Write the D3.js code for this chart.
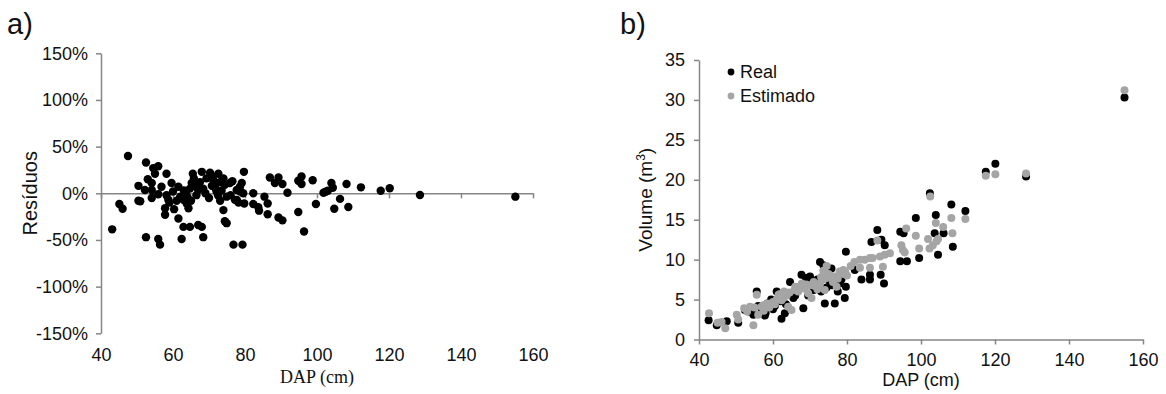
<!DOCTYPE html>
<html>
<head>
<meta charset="utf-8">
<script src="https://cdn.jsdelivr.net/npm/d3@7"></script>
<style>
  body { margin: 0; background: #fff; }
  text { font-family: Arial, "Liberation Sans", sans-serif; fill: #111; }
</style>
</head>
<body>
<svg id="svg"></svg>
<script>
// a) residuos (%) x DAP (cm)
const dapA = [
  43.1, 45.1, 46.0, 47.5, 50.4, 50.4, 50.9, 52.5, 53.0, 54.1, 52.2, 54.1, 54.1, 52.5,
  54.5, 55.9, 55.0, 55.9, 55.9, 56.4, 56.8, 58.2, 58.2, 58.7, 57.8, 57.8, 59.6, 60.3,
  61.5, 61.5, 62.0, 62.4, 62.9, 62.9, 63.8, 64.3, 63.6, 64.7, 64.7, 65.2, 65.5, 65.8,
  67.0, 68.0, 68.4, 68.0, 67.5, 67.0, 68.4, 69.3, 70.3, 71.2, 71.7, 72.1, 72.6, 74.0,
  74.4, 75.8, 73.1, 74.9, 74.0, 74.4, 74.9, 76.8, 77.2, 77.7, 79.7, 79.1, 78.6, 78.6,
  79.5, 77.7, 78.2, 79.8, 79.3, 66.0, 66.5, 69.0, 70.0, 70.8, 72.5, 73.5, 76.0, 71.0,
  73.0, 76.5, 60.0, 61.0, 63.0, 64.0, 59.0, 65.0,
  82.3, 82.3, 83.7, 83.9, 85.4, 86.3, 86.3, 86.9, 88.3, 89.3, 90.4, 91.8, 89.3, 90.4,
  94.8, 94.8, 95.7, 95.7, 96.4, 98.8, 99.7, 101.8, 102.4, 103.0, 104.0, 104.4, 106.4,
  104.8, 108.2, 108.7, 112.2, 117.7, 120.2, 128.6, 155.1
];
const residuo = [
  -38.6, -11.5, -16.5, 40, 8, -8, -8.5, 33, 15, 11, 3.5, 3.5, -5, -47,
  27, 29, 21, -1, -49, -55, 7, 21, -2, -7, -16, -23, 11, -17,
  7, -27, -3.6, -49, -7, -36, -11, -16, 0, 5, -36, 11, 21, 16,
  -34, -36, -47, 23, 12, 3.5, 5, 16, 22, 14, 6, 2, 21, 16,
  9, 11, -8, -3.6, -18, -30, -32, -55, -7, 3.5, 23, 11, 7, 2,
  0, -7, -10, -11, -55, 8, -2, 0, -5, 8, -2, 3, -2, 18,
  12, 13, 2, -8, 3, -4, -10, -8,
  0, -11.5, -15, -18.6, -3.6, -11, -22.5, 17, 11, 17, 10, 0.6, -26, -29,
  -20, 13.5, 18, 10, -41, 14, -11.5, 0.6, 1.7, 2.8, 11, 6, -6,
  -16.5, 10, -14.7, 6.4, 2.8, 5.4, -1.8, -3.6
];
const ticksResA = [-150, -100, -50, 0, 50, 100, 150];

// b) volume real e estimado (m3) x DAP (cm)
const dapReal = [
  42.6, 44.8, 47.5, 50.6, 52.4, 54.7, 55.6, 57.8, 61.0, 62.3, 63.2, 64.6, 67.7, 68.2,
  68.9, 70.0, 70.4, 72.7, 73.6, 75.8, 74.0, 76.7, 75.4, 79.4, 79.7, 79.7, 82.1, 83.9,
  86.2, 86.2, 86.6, 88.2, 89.3, 90.2, 89.1, 90.0, 94.4, 95.3, 94.4, 96.2, 98.6, 99.5,
  102.4, 104.0, 103.7, 106.1, 104.6, 108.2, 108.6, 112.0, 117.5, 120.1, 128.4, 155.0,
  53.5, 56.0, 58.5, 60.0, 62.0, 65.5, 66.5, 69.5, 71.5, 73.0, 77.5, 78.5, 57.0, 59.5, 64.0,
  58.0, 60.5, 63.5, 66.0, 68.0, 71.0, 72.0, 74.5, 76.0, 78.0
];
const volReal = [
  2.4, 1.8, 2.3, 2.1, 3.7, 3.1, 6.0, 3.0, 6.0, 2.6, 3.3, 7.2, 8.1, 3.9,
  7.7, 7.9, 7.2, 9.7, 9.3, 8.9, 4.5, 4.5, 7.2, 5.2, 6.6, 11.0, 8.7, 7.5,
  7.5, 8.1, 12.2, 13.7, 12.5, 11.8, 8.1, 7.0, 13.5, 13.3, 9.8, 9.8, 15.2, 10.2,
  18.3, 15.6, 13.3, 13.3, 10.6, 16.9, 11.6, 16.1, 21.0, 22.0, 20.4, 30.3,
  3.5, 4.2, 4.5, 3.8, 4.8, 5.2, 6.5, 5.5, 6.8, 6.0, 6.0, 7.5, 3.6, 5.0, 5.8,
  3.3, 4.2, 4.4, 5.5, 6.8, 6.2, 7.5, 6.5, 6.8, 7.0
];
const dapEst = [
  42.7, 45.0, 46.1, 47.1, 50.2, 50.6, 52.2, 53.8, 54.7, 55.6, 56.0, 56.9, 57.4, 58.5,
  60.0, 61.0, 62.3, 62.8, 63.7, 64.1, 65.0, 65.9, 66.8, 67.3, 68.4, 69.5, 70.4, 71.3,
  72.7, 73.6, 74.5, 73.6, 74.5, 74.0, 76.2, 77.2, 76.7, 78.0, 79.0, 79.0, 82.0, 83.5,
  84.8, 86.2, 86.9, 83.5, 86.2, 89.7, 88.9, 90.2, 91.6, 88.2, 94.7, 95.1, 95.6, 96.0,
  98.6, 99.5, 101.9, 102.3, 103.2, 104.2, 104.6, 102.5, 104.0, 106.0, 108.2, 108.5,
  112.0, 117.5, 120.1, 128.4, 155.0,
  53.0, 55.0, 59.0, 61.5, 63.0, 67.8, 70.0, 72.0, 75.5, 80.0,
  57.5, 60.5, 62.0, 64.5, 66.0, 69.0, 71.0, 73.0, 75.0, 77.5, 79.5, 81.0
];
const volEst = [
  3.3, 2.1, 2.2, 1.4, 3.1, 2.5, 3.9, 4.1, 1.8, 5.6, 3.1, 4.1, 4.3, 4.5,
  4.7, 5.0, 4.9, 5.2, 5.5, 4.1, 3.7, 6.2, 6.0, 6.4, 6.4, 5.8, 5.2, 6.7,
  7.0, 7.5, 7.7, 8.6, 9.2, 6.2, 7.2, 6.6, 7.9, 8.5, 8.2, 8.7, 9.7, 10.0,
  10.0, 10.2, 10.2, 9.0, 9.0, 9.1, 10.4, 10.6, 10.8, 12.4, 11.8, 11.2, 10.9, 13.9,
  13.0, 11.4, 12.6, 11.4, 11.8, 12.3, 12.6, 17.9, 14.6, 14.1, 15.2, 13.3,
  15.1, 20.5, 20.7, 20.8, 31.2,
  3.5, 4.0, 4.0, 5.6, 6.0, 7.0, 6.8, 6.3, 8.0, 8.0,
  3.6, 4.4, 5.7, 5.9, 6.6, 6.9, 7.2, 7.8, 8.2, 7.6, 8.5, 9.2
];
const ticksVolB = [0, 5, 10, 15, 20, 25, 30, 35];
const ticksDap = [40, 60, 80, 100, 120, 140, 160];

const axisColor = '#868686';
const grayColor = '#a5a5a5';

const svg = d3.select('#svg').attr('width', 1166).attr('height', 394);

function styleAxis(g) {
  g.select('.domain').attr('stroke', axisColor).attr('stroke-width', 1.5);
  g.selectAll('.tick line').attr('stroke', axisColor).attr('stroke-width', 1.5);
  g.selectAll('.tick text').attr('font-size', 18).attr('fill', '#111');
}

// ---------- panel a ----------
const xA = d3.scaleLinear().domain([40, 160]).range([101, 533]);
const yA = d3.scaleLinear().domain([-150, 150]).range([333.3, 53.3]);

svg.append('g')
  .attr('transform', 'translate(101,0)')
  .call(d3.axisLeft(yA).tickValues(ticksResA).tickSizeInner(5).tickSizeOuter(0)
    .tickPadding(8).tickFormat((d) => d + '%'))
  .call(styleAxis);

// eixo x sobre a linha do zero
svg.append('g')
  .attr('transform', 'translate(0,' + yA(0) + ')')
  .call(d3.axisBottom(xA).tickValues(ticksDap).tickSizeInner(5).tickSizeOuter(0)
    .tickFormat(''))
  .call(styleAxis);

// rotulos do eixo x embaixo
svg.append('g')
  .attr('transform', 'translate(0,' + yA(-150) + ')')
  .call(d3.axisBottom(xA).tickValues(ticksDap).tickSize(0).tickPadding(15))
  .call(styleAxis)
  .call((g) => g.select('.domain').remove());

svg.append('g')
  .selectAll('circle')
  .data(dapA.map((d, i) => [d, residuo[i]]))
  .join('circle')
  .attr('cx', (d) => xA(d[0]))
  .attr('cy', (d) => yA(d[1]))
  .attr('r', 4.2)
  .attr('fill', '#000');

svg.append('text').attr('x', 7).attr('y', 34).attr('font-size', 29).text('a)');
svg.append('text')
  .attr('transform', 'translate(37,' + yA(0) + ') rotate(-90)')
  .attr('text-anchor', 'middle').attr('font-size', 20).text('Resíduos');
svg.append('text')
  .attr('x', 317).attr('y', 383).attr('text-anchor', 'middle')
  .attr('font-size', 18).style('font-family', '"Liberation Serif", "Times New Roman", serif')
  .text('DAP (cm)');

// ---------- panel b ----------
const xB = d3.scaleLinear().domain([40, 160]).range([699, 1143]);
const yB = d3.scaleLinear().domain([0, 35]).range([339.5, 60]);

svg.append('g')
  .attr('transform', 'translate(699,0)')
  .call(d3.axisLeft(yB).tickValues(ticksVolB).tickSizeInner(5).tickSizeOuter(0).tickPadding(9))
  .call(styleAxis);

svg.append('g')
  .attr('transform', 'translate(0,' + yB(0) + ')')
  .call(d3.axisBottom(xB).tickValues(ticksDap).tickSizeInner(5).tickSizeOuter(0).tickPadding(9))
  .call(styleAxis);

svg.append('g')
  .selectAll('circle')
  .data(dapReal.map((d, i) => [d, volReal[i]]))
  .join('circle')
  .attr('cx', (d) => xB(d[0]))
  .attr('cy', (d) => yB(d[1]))
  .attr('r', 4)
  .attr('fill', '#000');

svg.append('g')
  .selectAll('circle')
  .data(dapEst.map((d, i) => [d, volEst[i]]))
  .join('circle')
  .attr('cx', (d) => xB(d[0]))
  .attr('cy', (d) => yB(d[1]))
  .attr('r', 4)
  .attr('fill', grayColor);

svg.append('text').attr('x', 620).attr('y', 34).attr('font-size', 29).text('b)');

const volLabel = svg.append('text')
  .attr('transform', 'translate(652,' + (yB(0) + yB(35)) / 2 + ') rotate(-90)')
  .attr('text-anchor', 'middle').attr('font-size', 19);
volLabel.append('tspan').text('Volume (m');
volLabel.append('tspan').attr('dy', -7).attr('font-size', 12).text('3');
volLabel.append('tspan').attr('dy', 7).text(')');

svg.append('text')
  .attr('x', (xB(40) + xB(160)) / 2).attr('y', 386).attr('text-anchor', 'middle')
  .attr('font-size', 18).text('DAP (cm)');

// legenda
const legend = [['Real', '#000', 72], ['Estimado', grayColor, 96]];
const lg = svg.append('g').selectAll('g').data(legend).join('g')
  .attr('transform', (d) => 'translate(731,' + d[2] + ')');
lg.append('circle').attr('r', 3.4).attr('fill', (d) => d[1]);
lg.append('text').attr('x', 9).attr('dy', '0.36em').attr('font-size', 18).text((d) => d[0]);
</script>
</body>
</html>
